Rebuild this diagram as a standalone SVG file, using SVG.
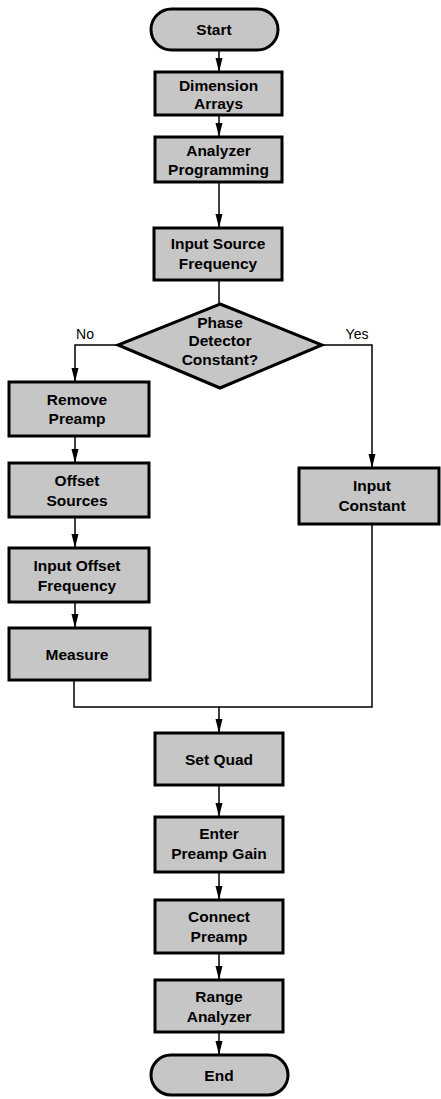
<svg xmlns="http://www.w3.org/2000/svg" width="441" height="1099" viewBox="0 0 441 1099">
<style>
.n{fill:#c6c6c6;stroke:#000;stroke-width:3}
.t{font-family:"Liberation Sans",Arial,sans-serif;font-weight:bold;font-size:15.5px;fill:#000;text-anchor:middle}
.l{font-family:"Liberation Sans",Arial,sans-serif;font-size:14px;fill:#000;text-anchor:middle}
.c{fill:none;stroke:#000;stroke-width:1.5}
</style>
<defs>
<marker id="b" markerWidth="14" markerHeight="8" refX="13" refY="4" orient="auto" markerUnits="userSpaceOnUse">
<path d="M0,0.5 L14,4 L0,7.5 Z" fill="#000"/>
</marker>
</defs>
<g id="connectors">
<path class="c" d="M219,50 V71" marker-end="url(#b)"/>
<path class="c" d="M219,115 V136" marker-end="url(#b)"/>
<path class="c" d="M219,182 V227" marker-end="url(#b)"/>
<path class="c" d="M219,281 V303"/>
<path class="c" d="M118,345 H75 V381" marker-end="url(#b)"/>
<path class="c" d="M322,345 H372 V467" marker-end="url(#b)"/>
<path class="c" d="M75,437 V462" marker-end="url(#b)"/>
<path class="c" d="M75,518 V547" marker-end="url(#b)"/>
<path class="c" d="M75,603 V627" marker-end="url(#b)"/>
<path class="c" d="M74,681 V707 H372 V525"/>
<path class="c" d="M219,707 V732" marker-end="url(#b)"/>
<path class="c" d="M219,786 V816" marker-end="url(#b)"/>
<path class="c" d="M219,873 V899" marker-end="url(#b)"/>
<path class="c" d="M219,954 V979" marker-end="url(#b)"/>
<path class="c" d="M219,1033 V1054" marker-end="url(#b)"/>
</g>
<g id="start"><rect class="n" x="151" y="9" width="127" height="41" rx="20.5"/><text class="t" x="214" y="35">Start</text></g>
<g id="dim"><rect class="n" x="155" y="72" width="127" height="43"/><text class="t" x="218.5" y="91">Dimension</text><text class="t" x="218.5" y="109">Arrays</text></g>
<g id="prog"><rect class="n" x="155" y="137" width="127" height="45"/><text class="t" x="218.5" y="156">Analyzer</text><text class="t" x="218.5" y="175">Programming</text></g>
<g id="srcfreq"><rect class="n" x="154" y="228" width="128" height="52"/><text class="t" x="218" y="249">Input Source</text><text class="t" x="218" y="269">Frequency</text></g>
<g id="decision"><path class="n" d="M220,304 L322,345 L220,388 L118,345 Z"/><text class="t" x="220" y="328">Phase</text><text class="t" x="220" y="346">Detector</text><text class="t" x="220" y="365">Constant?</text></g>
<text class="l" x="85" y="339">No</text>
<text class="l" x="357" y="339">Yes</text>
<g id="remove"><rect class="n" x="9" y="382" width="140" height="54"/><text class="t" x="77" y="405">Remove</text><text class="t" x="77" y="424">Preamp</text></g>
<g id="offset"><rect class="n" x="9" y="463" width="140" height="54"/><text class="t" x="77" y="486">Offset</text><text class="t" x="77" y="506">Sources</text></g>
<g id="offfreq"><rect class="n" x="9" y="548" width="140" height="54"/><text class="t" x="77" y="571">Input Offset</text><text class="t" x="77" y="591">Frequency</text></g>
<g id="measure"><rect class="n" x="9" y="628" width="141" height="52"/><text class="t" x="77" y="660">Measure</text></g>
<g id="inconst"><rect class="n" x="299" y="468" width="140" height="56"/><text class="t" x="372" y="491">Input</text><text class="t" x="372" y="511">Constant</text></g>
<g id="setquad"><rect class="n" x="155" y="733" width="128" height="52"/><text class="t" x="219" y="765">Set Quad</text></g>
<g id="gain"><rect class="n" x="155" y="817" width="128" height="55"/><text class="t" x="219" y="839">Enter</text><text class="t" x="219" y="859">Preamp Gain</text></g>
<g id="connect"><rect class="n" x="155" y="900" width="128" height="53"/><text class="t" x="219" y="922">Connect</text><text class="t" x="219" y="942">Preamp</text></g>
<g id="range"><rect class="n" x="155" y="980" width="128" height="52"/><text class="t" x="219" y="1002">Range</text><text class="t" x="219" y="1022">Analyzer</text></g>
<g id="end"><rect class="n" x="151" y="1055" width="137" height="40" rx="20"/><text class="t" x="219" y="1081">End</text></g>
</svg>
